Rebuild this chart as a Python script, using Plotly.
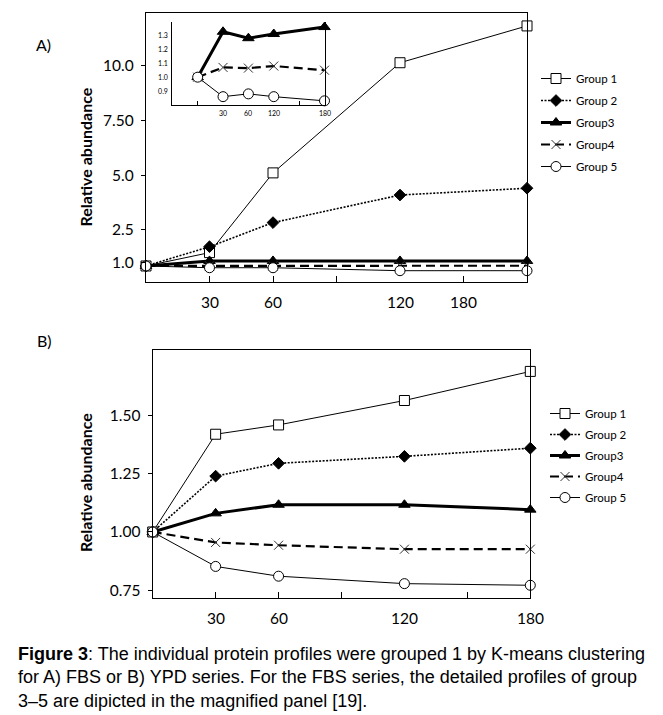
import plotly.graph_objects as go

W, H = 663, 715

# ---------------- data ----------------
groups = ["Group 1", "Group 2", "Group3", "Group4", "Group 5"]

# Panel A (FBS) - x positions are slots along the time axis
a_slots = [0, 1, 2, 4, 6]
a_g1 = [0.85, 1.46, 5.10, 10.13, 11.81]
a_g2 = [0.85, 1.73, 2.83, 4.09, 4.40]
a_g3 = [0.85, 1.08, 1.08, 1.08, 1.08]
a_g4 = [0.85, 0.86, 0.86, 0.86, 0.86]
a_g5 = [0.85, 0.77, 0.77, 0.635, 0.635]
a_ytick_vals = [1.0, 2.5, 5.0, 7.5, 10.0]
a_ytick_text = ["1.0", "2.5", "5.0", "7.50", "10.0"]
a_xtick_marks = [1, 2, 3, 5]
a_xlabel_slots = [1, 2, 4, 5]
a_xlabels = ["30", "60", "120", "180"]

# Inset (magnified groups 3-5 of panel A)
in_slots = [0, 1, 2, 3, 5]
in_g3 = [1.00, 1.326, 1.28, 1.31, 1.36]
in_g4 = [1.00, 1.07, 1.065, 1.08, 1.05]
in_g5 = [1.00, 0.86, 0.88, 0.86, 0.83]
in_ytick_vals = [0.9, 1.0, 1.1, 1.2, 1.3]
in_ytick_text = ["0.9", "1.0", "1.1", "1.2", "1.3"]
in_xtick_marks = [0, 4]
in_xlabel_slots = [1, 2, 3, 5]
in_xlabels = ["30", "60", "120", "180"]

# Panel B (YPD)
b_slots = [0, 1, 2, 4, 6]
b_g1 = [1.00, 1.42, 1.46, 1.565, 1.69]
b_g2 = [1.00, 1.24, 1.295, 1.325, 1.36]
b_g3 = [1.00, 1.08, 1.117, 1.117, 1.096]
b_g4 = [1.00, 0.955, 0.943, 0.926, 0.926]
b_g5 = [1.00, 0.852, 0.81, 0.778, 0.771]
b_ytick_vals = [0.75, 1.00, 1.25, 1.50]
b_ytick_text = ["0.75", "1.00", "1.25", "1.50"]
b_xtick_marks = [1, 2, 3, 5]
b_xlabel_slots = [1, 2, 4, 6]
b_xlabels = ["30", "60", "120", "180"]

caption_lines = [
    "<b>Figure 3</b>: The individual protein profiles were grouped 1 by K-means clustering",
    "for A) FBS or B) YPD series. For the FBS series, the detailed profiles of group",
    "3\u20135 are dipicted in the magnified panel [19].",
]

# ---------------- styles ----------------
FONT = "Lato, 'Open Sans', sans-serif"
CAP_FONT = "'Liberation Sans', Arial, sans-serif"
styles = {
    "Group 1": dict(symbol="square", mcolor="white", size=10, dash="solid", width=1),
    "Group 2": dict(symbol="diamond", mcolor="black", size=9, dash="2px,1.5px", width=1.6),
    "Group3": dict(symbol="triangle-up", mcolor="black", size=10, dash="solid", width=3),
    "Group4": dict(symbol="x-thin", mcolor="#333", size=9, dash="9px,5px", width=2.2),
    "Group 5": dict(symbol="circle", mcolor="white", size=10, dash="solid", width=1),
}


def add(fig, name, xs, ys, xa, ya, legend=None, showlegend=True):
    s = styles[name]
    fig.add_trace(go.Scatter(
        x=xs, y=ys, mode="lines+markers", name=name,
        xaxis=xa, yaxis=ya, cliponaxis=False,
        line=dict(color="black", width=s["width"], dash=s["dash"]),
        marker=dict(symbol=s["symbol"], size=s["size"], color=s["mcolor"],
                    line=dict(color="black" if s["symbol"] != "x-thin" else "#333", width=1)),
        showlegend=showlegend, legend=legend, legendgroup=(legend or "") + name,
    ))


fig = go.Figure()
for name, ys in zip(groups, [a_g1, a_g2, a_g3, a_g4, a_g5]):
    add(fig, name, a_slots, ys, "x", "y", legend="legend")
for name, ys in zip(groups[2:], [in_g3, in_g4, in_g5]):
    add(fig, name, in_slots, ys, "x2", "y2", showlegend=False)
for name, ys in zip(groups, [b_g1, b_g2, b_g3, b_g4, b_g5]):
    add(fig, name, b_slots, ys, "x3", "y3", legend="legend2")


def px_dom(a, b, vertical=False):
    if vertical:
        return [1 - b / H, 1 - a / H]
    return [a / W, b / W]


common = dict(showgrid=False, zeroline=False, linecolor="black", tickcolor="black")
TICK = 15.5

fig.update_layout(
    width=W, height=H, margin=dict(l=0, r=0, t=0, b=0),
    paper_bgcolor="white", plot_bgcolor="white",
    font=dict(family=FONT, color="black"),
    xaxis=dict(domain=px_dom(146, 527), range=[0, 6], anchor="y", showline=True, mirror=True,
               linewidth=1.4, ticks="inside", ticklen=6, tickwidth=1.2, tickvals=a_xtick_marks,
               showticklabels=False, **common),
    yaxis=dict(domain=px_dom(13, 282.3, True), range=[0.105, 12.40], anchor="x", showline=True,
               mirror=True, linewidth=1.4, ticks="outside", ticklen=4, tickwidth=1.2,
               tickvals=a_ytick_vals, ticktext=a_ytick_text, ticklabelstandoff=4,
               tickfont=dict(size=TICK, family=FONT), **common),
    xaxis2=dict(domain=px_dom(172.3, 324.5), range=[-1, 5], anchor="y2", showline=True,
                linewidth=1, ticks="inside", ticklen=4, tickwidth=1, tickvals=in_xtick_marks,
                showticklabels=False, **common),
    yaxis2=dict(domain=px_dom(21.5, 105, True), range=[0.8, 1.4], anchor="x2", showline=True,
                mirror=True, linewidth=1, ticks="", tickvals=in_ytick_vals, ticktext=in_ytick_text,
                ticklabelstandoff=2, tickfont=dict(size=7, family=FONT, color="black"), **common),
    xaxis3=dict(domain=px_dom(152.7, 530.3), range=[0, 6], anchor="y3", showline=True, mirror=True,
                linewidth=1.4, ticks="inside", ticklen=6, tickwidth=1.2, tickvals=b_xtick_marks,
                showticklabels=False, **common),
    yaxis3=dict(domain=px_dom(350, 598.3, True), range=[0.715, 1.782], anchor="x3", showline=True,
                mirror=True, linewidth=1.4, ticks="outside", ticklen=4, tickwidth=1.2,
                tickvals=b_ytick_vals, ticktext=b_ytick_text, ticklabelstandoff=4,
                tickfont=dict(size=TICK, family=FONT), **common),
    legend=dict(x=536 / W, y=1 - 64 / H, xanchor="left", yanchor="top", bgcolor="rgba(0,0,0,0)",
                font=dict(size=11.5, family=FONT), traceorder="grouped", tracegroupgap=3),
    legend2=dict(x=545 / W, y=1 - 399 / H, xanchor="left", yanchor="top", bgcolor="rgba(0,0,0,0)",
                 font=dict(size=11.5, family=FONT), traceorder="grouped", tracegroupgap=2),
)

ann = []
for s, t in zip(a_xlabel_slots, a_xlabels):
    ann.append(dict(x=s, y=0, xref="x", yref="y domain", text=t, showarrow=False,
                    xanchor="center", yanchor="middle", yshift=-19.5, font=dict(size=TICK, family=FONT)))
for s, t in zip(in_xlabel_slots, in_xlabels):
    ann.append(dict(x=s, y=0, xref="x2", yref="y2 domain", text=t, showarrow=False,
                    xanchor="center", yanchor="middle", yshift=-7.5, font=dict(size=7, family=FONT)))
for s, t in zip(b_xlabel_slots, b_xlabels):
    ann.append(dict(x=s, y=0, xref="x3", yref="y3 domain", text=t, showarrow=False,
                    xanchor="center", yanchor="middle", yshift=-20, font=dict(size=TICK, family=FONT)))
ann += [
    dict(x=85 / W, y=1 - 156.5 / H, xref="paper", yref="paper", text="<b>Relative abundance</b>",
         textangle=-90, showarrow=False, xanchor="center", yanchor="middle",
         font=dict(size=16, family=FONT)),
    dict(x=85 / W, y=1 - 482 / H, xref="paper", yref="paper", text="<b>Relative abundance</b>",
         textangle=-90, showarrow=False, xanchor="center", yanchor="middle",
         font=dict(size=16, family=FONT)),
    dict(x=43 / W, y=1 - 45 / H, xref="paper", yref="paper", text="A)", showarrow=False,
         xanchor="center", yanchor="middle", font=dict(size=16, family=FONT)),
    dict(x=44 / W, y=1 - 340 / H, xref="paper", yref="paper", text="B)", showarrow=False,
         xanchor="center", yanchor="middle", font=dict(size=16, family=FONT)),
    dict(x=16 / W, y=1 - 642 / H, xref="paper", yref="paper", text="<br>".join(caption_lines),
         showarrow=False, xanchor="left", yanchor="top", align="left",
         font=dict(size=18, family=CAP_FONT)),
]
fig.update_layout(annotations=ann)

fig.write_html("out.html", config={"displayModeBar": False},
               post_script="document.body.style.margin='0';document.body.style.padding='0';")
